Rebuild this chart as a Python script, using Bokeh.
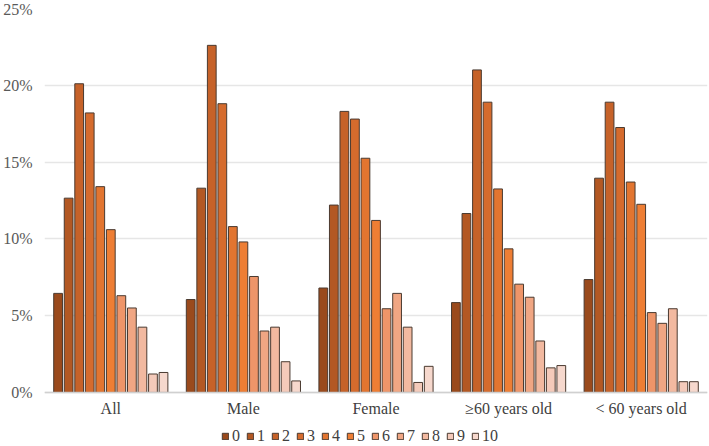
from bokeh.plotting import figure
from bokeh.models import (Legend, LegendItem, NumeralTickFormatter, ColumnDataSource,
                          FactorRange, Span)
from bokeh.core.properties import value
from bokeh.transform import dodge
from bokeh.embed import file_html
from bokeh.resources import INLINE

# Groups shown along the x axis
groups = ["All", "Male", "Female", "\u226560 years old", "< 60 years old"]

# Share of respondents (%) for each score 0..10, per group
score_labels = ["0", "1", "2", "3", "4", "5", "6", "7", "8", "9", "10"]
score_0 = [6.45, 6.05, 6.8, 5.85, 7.35]
score_1 = [12.65, 13.3, 12.2, 11.65, 13.95]
score_2 = [20.1, 22.6, 18.3, 21.0, 18.9]
score_3 = [18.2, 18.8, 17.8, 18.9, 17.25]
score_4 = [13.4, 10.8, 15.25, 13.25, 13.7]
score_5 = [10.6, 9.8, 11.2, 9.35, 12.25]
score_6 = [6.3, 7.55, 5.45, 7.05, 5.2]
score_7 = [5.5, 4.0, 6.45, 6.2, 4.5]
score_8 = [4.25, 4.25, 4.25, 3.35, 5.45]
score_9 = [1.2, 2.0, 0.65, 1.6, 0.7]
score_10 = [1.3, 0.75, 1.7, 1.75, 0.7]

series = [score_0, score_1, score_2, score_3, score_4, score_5,
          score_6, score_7, score_8, score_9, score_10]

colors = ["#9A4A1C", "#B35823", "#C66229", "#D56B2D", "#E27530", "#EE7E34",
          "#EE9569", "#F0A683", "#F2B9A0", "#F4CABA", "#F6D8CD"]

SERIF = "Liberation Serif"

data = {"group": groups}
for lab, vals in zip(score_labels, series):
    data["s" + lab] = [v / 100.0 for v in vals]
source = ColumnDataSource(data)

# The frame reaches down to the bottom edge: the strip below 0% holds the
# category names and the legend.
p = figure(
    x_range=FactorRange(*groups, range_padding=0),
    y_range=(-0.0352, 0.25),
    frame_width=663, frame_height=438,
    output_backend="svg", toolbar_location=None,
    min_border_left=43, min_border_right=3, min_border_top=8, min_border_bottom=0,
)

step = 0.0795
bar_w = 0.066
items = []
for i, lab in enumerate(score_labels):
    r = p.vbar(
        x=dodge("group", (i - 5) * step, range=p.x_range),
        top="s" + lab, bottom=0, width=bar_w, source=source,
        fill_color=colors[i], line_color="#4a3a30", line_width=1,
    )
    items.append(LegendItem(label=lab, renderers=[r]))

# Baseline at 0%
p.add_layout(Span(location=0, dimension="width", line_color="#d0d0d0", line_width=1.5))

# Category names under the baseline
label_src = ColumnDataSource({"group": groups, "y": [-0.0105] * len(groups)})
p.text(x="group", y="y", text="group", source=label_src,
       text_align="center", text_baseline="middle",
       text_font=value(SERIF), text_font_size="16px", text_color="#404040")

legend = Legend(
    items=items, orientation="horizontal", location=(177, 1),
    glyph_width=8, glyph_height=8, label_standoff=3, spacing=6, label_width=8,
    padding=0, margin=0, border_line_color=None, background_fill_alpha=0,
    label_text_font=SERIF, label_text_font_size="16px",
    label_text_color="#404040", label_height=16,
)
p.add_layout(legend, "center")

p.xaxis.visible = False
p.yaxis.formatter = NumeralTickFormatter(format="0%")
p.yaxis.ticker = [0, 0.05, 0.10, 0.15, 0.20, 0.25]
p.yaxis.axis_line_color = None
p.yaxis.major_tick_line_color = None
p.yaxis.major_tick_out = 0
p.yaxis.minor_tick_line_color = None
p.yaxis.major_label_standoff = 12
p.yaxis.major_label_text_font = SERIF
p.yaxis.major_label_text_font_size = "16px"
p.yaxis.major_label_text_color = "#595959"

p.xgrid.grid_line_color = None
p.ygrid.grid_line_color = "#e6e6e6"
p.ygrid.grid_line_width = 1.5
p.outline_line_color = None
p.background_fill_color = "white"
p.border_fill_color = "white"

open("out.html", "w").write(file_html(p, INLINE))
